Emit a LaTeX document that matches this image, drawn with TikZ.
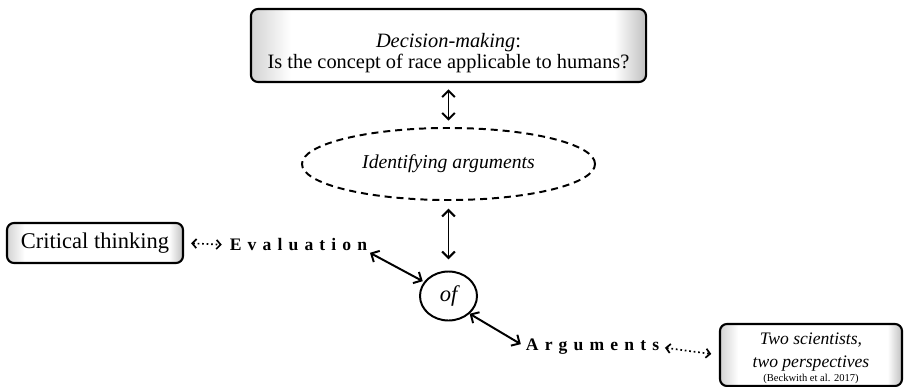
\documentclass[tikz,border=0pt]{standalone}
\usepackage{fontspec}
\setmainfont{Liberation Serif}
\newfontfamily\spacedbf[LetterSpace=35]{Liberation Serif}
\usetikzlibrary{arrows.meta, shapes.geometric, positioning}

\pgfdeclarehorizontalshading{bevel}{100bp}{color(0bp)=(gray!35); color(25bp)=(gray!35);
  color(30bp)=(white); color(71bp)=(white); color(75bp)=(gray!50); color(100bp)=(gray!50)}

\begin{document}
\begin{tikzpicture}[x=0.025cm,y=-0.025cm,
    bevelbox/.style={draw,line width=1.5pt,rounded corners=5pt,shading=bevel,align=center,inner sep=2pt},
    link/.style={line width=1.4pt,{Straight Barb[length=4.5pt,width=9pt]}-{Straight Barb[length=4.5pt,width=9pt]}},
    dotlink/.style={line width=1.2pt,dotted,{Straight Barb[length=3pt,width=6.5pt]}-{Straight Barb[length=3pt,width=6.5pt]}},
    spaced/.style={font=\fontsize{12.5}{14}\spacedbf\bfseries,inner sep=0pt}]
  \useasboundingbox (0,0) rectangle (909,387);
  % boxes and ellipses
  \node[bevelbox,minimum width=9.875cm,minimum height=1.825cm,font=\fontsize{14.5}{15.5}\selectfont]
    (decision) at (448.5,45.5) {\rule{0pt}{21pt}\textit{Decision-making}:\\Is the concept of race applicable to humans?};
  \node[ellipse,draw,dash pattern=on 5pt off 3.5pt,line width=1.4pt,minimum width=7.325cm,minimum height=1.8cm,
    font=\fontsize{14}{16}\itshape] (ident) at (448.5,164) {Identifying arguments};
  \node[ellipse,draw,line width=1.4pt,minimum width=1.425cm,minimum height=1.225cm,inner sep=0pt,
    font=\fontsize{16}{18}\itshape] (of) at (448.5,296) {of};
  \node[bevelbox,minimum width=4.4cm,minimum height=1cm,font=\fontsize{16}{18}\selectfont]
    (crit) at (95,243) {Critical thinking};
  \node[spaced] (eval) at (298.5,245) {Evaluation};
  \node[spaced] (args) at (592.5,347) {Arguments};
  \node[bevelbox,minimum width=4.55cm,minimum height=1.55cm,inner sep=1pt,font=\fontsize{12.5}{13}\itshape]
    (twosci) at (811,355) {\rule{0pt}{13pt}Two scientists,\\[3.5pt]two perspectives\\[-2.6pt]{\upshape\fontsize{7.5}{8}\selectfont(Beckwith et al. 2017)}};
  % connectors
  \draw[link,shorten <=4.5pt,shorten >=4.5pt] (ident.north |- decision.south) -- (ident.north);
  \draw[link,shorten <=5.5pt,shorten >=8pt] (ident.south) -- (of.north);
  \draw[link,shorten <=2pt,shorten >=1pt] (eval.south east) -- (of.150);
  \draw[link,shorten >=4pt] (of.-40) -- (args.west);
  \draw[dotlink,shorten <=5pt,shorten >=5.5pt] (crit.east) -- (eval.west);
  \draw[dotlink,shorten <=4pt,shorten >=5.5pt] (args.east) -- (twosci.west);
\end{tikzpicture}
\end{document}
